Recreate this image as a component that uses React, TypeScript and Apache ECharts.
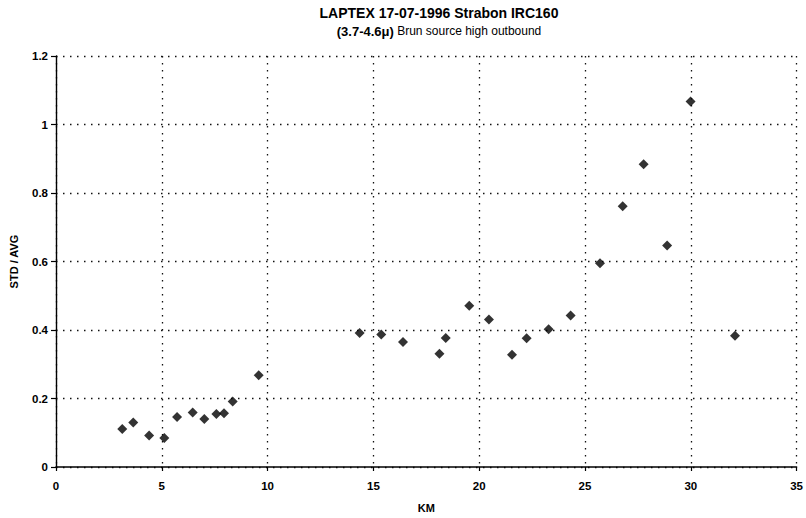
import React, { useEffect, useRef } from "react";
import * as echarts from "echarts";

const titleText = "LAPTEX 17-07-1996 Strabon IRC160";
const subtitleBold = "(3.7-4.6μ)";
const subtitleNormal = "Brun source high outbound";
const xAxisName = "KM";
const yAxisName = "STD / AVG";

const kmValues = [
  3.13, 3.65, 4.4, 5.12, 5.72, 6.46, 7.01, 7.58, 7.94, 8.35, 9.58,
  14.35, 15.37, 16.4, 18.12, 18.42, 19.53, 20.46, 21.55, 22.24, 23.28, 24.32,
  25.71, 26.78, 27.77, 28.88, 29.99, 32.09,
];
const stdAvgValues = [
  0.111, 0.13, 0.092, 0.085, 0.146, 0.159, 0.14, 0.155, 0.157, 0.191, 0.268,
  0.391, 0.387, 0.365, 0.331, 0.377, 0.471, 0.431, 0.328, 0.376, 0.402, 0.442,
  0.595, 0.761, 0.884, 0.647, 1.067, 0.383,
];

const FONT = 'Arial, "Liberation Sans", sans-serif';

export default function App() {
  const ref = useRef<HTMLDivElement>(null);
  useEffect(() => {
    if (!ref.current) return;
    const chart = echarts.init(ref.current, undefined, { renderer: "svg" });
    const points = kmValues.map((x, i) => [x, stdAvgValues[i]]);
    const dotted = { color: "#111", width: 1.3, type: [1.5, 5.5] as any };
    chart.setOption({
      animation: false,
      backgroundColor: "#fff",
      textStyle: { fontFamily: FONT },
      graphic: [
        {
          type: "text",
          x: 439,
          y: 13,
          style: {
            text: titleText,
            align: "center",
            verticalAlign: "middle",
            fontFamily: FONT,
            fontSize: 14,
            fontWeight: "bold",
            fill: "#000",
          },
        },
        {
          type: "text",
          x: 439,
          y: 31,
          style: {
            text: "{b|" + subtitleBold + "} {n|" + subtitleNormal + "}",
            align: "center",
            verticalAlign: "middle",
            fontFamily: FONT,
            fill: "#000",
            rich: {
              b: { fontFamily: FONT, fontSize: 13, fontWeight: "bold", fill: "#000" },
              n: { fontFamily: FONT, fontSize: 12, fill: "#000" },
            },
          },
        },
      ],
      grid: { left: 56, right: 9, top: 56, bottom: 49, containLabel: false },
      xAxis: {
        type: "value",
        min: 0,
        max: 35,
        interval: 5,
        name: xAxisName,
        nameLocation: "middle",
        nameGap: 35,
        nameTextStyle: { fontFamily: FONT, fontSize: 11, fontWeight: "bold", color: "#000" },
        axisLine: { show: true, onZero: false, lineStyle: { color: "#000", width: 1.6 } },
        axisTick: { show: true, length: 4, lineStyle: { color: "#000", width: 1.2 } },
        axisLabel: { margin: 13, fontFamily: FONT, fontSize: 11.5, fontWeight: "bold", color: "#000" },
        splitLine: { show: true, lineStyle: dotted },
      },
      yAxis: {
        type: "value",
        min: 0,
        max: 1.2,
        interval: 0.2,
        name: yAxisName,
        nameLocation: "middle",
        nameGap: 37,
        nameRotate: 90,
        nameTextStyle: { fontFamily: FONT, fontSize: 11, fontWeight: "bold", color: "#000" },
        axisLine: { show: true, onZero: false, lineStyle: { color: "#000", width: 1.4 } },
        axisTick: { show: true, length: 5, lineStyle: { color: "#000", width: 1.2 } },
        axisLabel: { margin: 8, fontFamily: FONT, fontSize: 11.5, fontWeight: "bold", color: "#000" },
        splitLine: { show: true, lineStyle: dotted },
      },
      series: [
        {
          type: "scatter",
          data: points,
          symbol: "diamond",
          symbolSize: 10,
          itemStyle: { color: "#000" },
        },
      ],
    });
    return () => chart.dispose();
  }, []);
  return (
    <div
      ref={ref}
      style={{ position: "fixed", left: 0, top: 0, width: 806, height: 518, background: "#fff" }}
    />
  );
}
